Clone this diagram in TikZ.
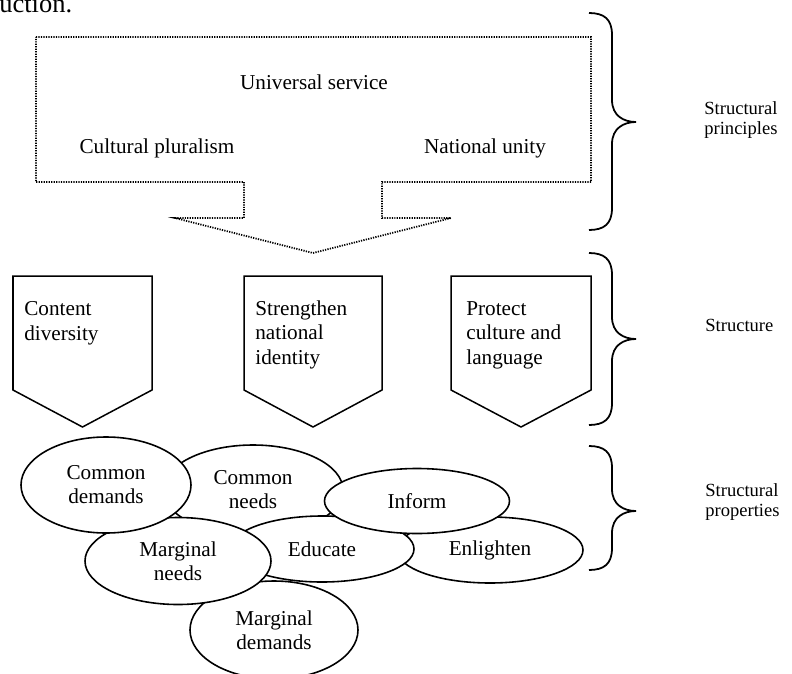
\documentclass[tikz,border=0pt]{standalone}
\usepackage{fontspec}
\setmainfont{Liberation Serif}
\usetikzlibrary{shapes.geometric}
\newdimen\pxu \pxu=0.566pt
% curly brace opening to the right: top y, tip y, bottom y
\newcommand\sidebrace[3]{%
  \draw[bracket] (589,#1) .. controls (604,#1) and (612,#1+6) .. (612,#1+22)
    -- (612,#2-22) .. controls (612,#2-6) and (624,#2) .. (636,#2)
    .. controls (624,#2) and (612,#2+6) .. (612,#2+22)
    -- (612,#3-22) .. controls (612,#3-6) and (604,#3) .. (589,#3);}
\begin{document}
\begin{tikzpicture}[x=0.566pt,y=-0.566pt,
  dotline/.style={line width=1pt, dash pattern=on 0.7pt off 0.7pt},
  shield/.style={line width=0.85pt, line join=miter},
  bracket/.style={line width=1pt},
  maintext/.style={font=\fontsize{12}{13.6}\selectfont, inner sep=0pt},
  boxtext/.style={maintext, align=left, anchor=base west},
  sidelabel/.style={font=\fontsize{10.5}{11.3}\selectfont, align=left, anchor=base west, inner sep=0pt},
  bubble/.style={ellipse, draw, line width=0.9pt, fill=white, inner sep=0pt,
    align=center, font=\fontsize{12}{13.6}\selectfont}]
\useasboundingbox (0,0) rectangle (792,673);

% running text above the figure
\node[font=\fontsize{15}{18}\selectfont, anchor=base west, inner sep=0pt] (runin) at (-1,13) {uction.};

% principles: dotted block arrow
\draw[dotline] (36,37) -- (591,37) -- (591,182) -- (382,182) -- (382,218)
  -- (451,218) -- (313,253) -- (175,218) -- (244,218) -- (244,182)
  -- (36,182) -- cycle;
\node[maintext, anchor=base] (univ) at (314,89) {Universal service};
\node[maintext, anchor=base] (plur) at (157,153) {Cultural pluralism};
\node[maintext, anchor=base] (unity) at (485,153) {National unity};

% structure: three solid pentagon arrows
\draw[shield] (13,276) -- (152,276) -- (152,390) -- (82.5,427) -- (13,390) -- cycle;
\draw[shield] (244,276) -- (382,276) -- (382,390) -- (313,427) -- (244,390) -- cycle;
\draw[shield] (451,276) -- (591,276) -- (591,390) -- (521,427) -- (451,390) -- cycle;
% multi-line nodes sit on the baseline of their last line
\node[boxtext] (cdiv) at (24,340) {Content\\diversity};
\node[boxtext] (snat) at (255,364) {Strengthen\\national\\identity};
\node[boxtext] (pcul) at (466,364) {Protect\\culture and\\language};

% properties: overlapping ellipses, back to front
\node[bubble, minimum width=186*\pxu, minimum height=66*\pxu] (enl) at (490,550) {Enlighten};
\node[bubble, minimum width=168*\pxu, minimum height=98*\pxu] (mdem) at (274,630) {Marginal\\demands};
\node[bubble, minimum width=180*\pxu, minimum height=90*\pxu] (cneed) at (253,490) {Common\\needs};
\node[bubble, minimum width=184*\pxu, minimum height=66*\pxu] (edu) at (322,549) {Educate};
\node[bubble, minimum width=186*\pxu, minimum height=87*\pxu] (mneed) at (178,561) {Marginal\\needs};
\node[bubble, minimum width=170*\pxu, minimum height=96*\pxu] (cdem) at (106,485) {Common\\demands};
\node[bubble, minimum width=185*\pxu, minimum height=65*\pxu] (inf) at (417,501) {Inform};

% braces and level labels
\sidebrace{13}{122}{230}
\sidebrace{253}{339}{425}
\sidebrace{446}{511}{570}
\node[sidelabel] (lprin) at (704,134) {Structural\\principles};
\node[sidelabel] (lstruc) at (705,331) {Structure};
\node[sidelabel] (lprop) at (705,516) {Structural\\properties};
\end{tikzpicture}
\end{document}
